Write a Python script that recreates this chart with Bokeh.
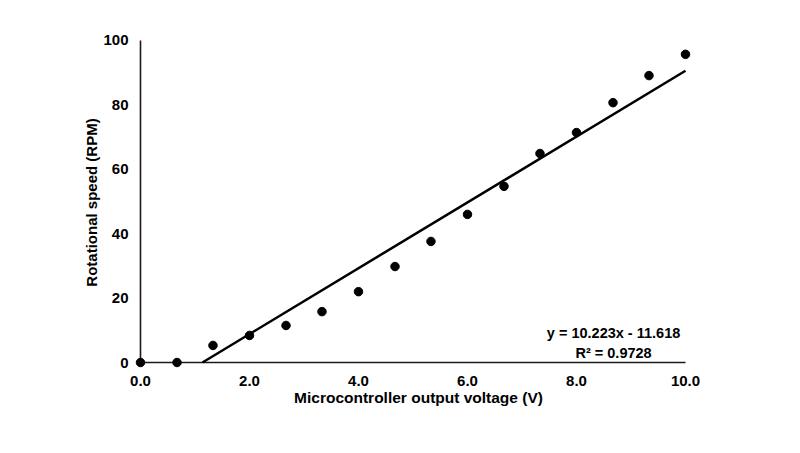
from bokeh.plotting import figure
from bokeh.models import Range1d, FixedTicker, NumeralTickFormatter, Label
from bokeh.embed import file_html
from bokeh.resources import INLINE

# ---- data ----
voltage = [0.0, 0.67, 1.33, 2.0, 2.67, 3.33, 4.0, 4.67, 5.33, 6.0, 6.67, 7.33, 8.0, 8.67, 9.33, 10.0]
rpm = [0.0, 0.0, 5.3, 8.4, 11.5, 15.8, 22.0, 29.8, 37.6, 46.0, 54.7, 64.9, 71.4, 80.7, 89.1, 95.7]
slope = 10.223
intercept = -11.618
r_squared = 0.9728
x_ticks = [0, 2, 4, 6, 8, 10]
y_ticks = [0, 20, 40, 60, 80, 100]
x_title = "Microcontroller output voltage (V)"
y_title = "Rotational speed (RPM)"

FONT = "Liberation Sans"
AXIS_COLOR = "#1a1a1a"

p = figure(width=800, height=453, output_backend="svg", toolbar_location=None,
           x_range=Range1d(-0.110, 10.312), y_range=Range1d(-1.863, 101.24),
           min_border_left=134, min_border_right=98, min_border_top=36, min_border_bottom=85)
p.outline_line_color = None
p.grid.visible = False
p.background_fill_color = "white"
p.border_fill_color = "white"

for ax in (p.xaxis[0], p.yaxis[0]):
    ax.axis_line_color = None
    ax.major_tick_line_color = None
    ax.minor_tick_line_color = None
    ax.major_tick_out = 0
    ax.major_tick_in = 0
    ax.minor_tick_out = 0
    ax.minor_tick_in = 0
    ax.major_label_text_font = FONT
    ax.major_label_text_font_style = "bold"
    ax.major_label_text_font_size = "15px"
    ax.major_label_text_color = "black"
    ax.axis_label_text_font = FONT
    ax.axis_label_text_font_style = "bold"
    ax.axis_label_text_color = "black"

p.xaxis.axis_label_text_font_size = "15.5px"
p.yaxis.axis_label_text_font_size = "15px"
p.xaxis.ticker = FixedTicker(ticks=x_ticks)
p.yaxis.ticker = FixedTicker(ticks=y_ticks)
p.xaxis.formatter = NumeralTickFormatter(format="0.0")
p.yaxis.formatter = NumeralTickFormatter(format="0")
p.xaxis.axis_label = x_title
p.yaxis.axis_label = y_title
p.xaxis.major_label_standoff = 7
p.yaxis.major_label_standoff = 6
p.xaxis.axis_label_standoff = 0
p.yaxis.axis_label_standoff = 0

# axis lines drawn at the data origin
p.segment(x0=[x_ticks[0], x_ticks[0]], y0=[y_ticks[0], y_ticks[0]],
          x1=[x_ticks[-1], x_ticks[0]], y1=[y_ticks[0], y_ticks[-1]],
          line_color=AXIS_COLOR, line_width=1.6)

# trendline (clipped at y = 0 like the reference)
x0 = max(0.0, -intercept / slope)
x1 = max(voltage)
p.line([x0, x1], [slope * x0 + intercept, slope * x1 + intercept], line_color="black", line_width=2.5)

p.scatter(voltage, rpm, marker="circle", size=8.5, fill_color="black", line_color="black")

sign = "-" if intercept < 0 else "+"
eq1 = f"y = {slope}x {sign} {abs(intercept)}"
eq2 = f"R\u00b2 = {r_squared}"
p.add_layout(Label(x=8.68, y=9.3, text=eq1, text_align="center", text_baseline="middle",
                   text_font=FONT, text_font_style="bold", text_font_size="14.5px", text_color="black"))
p.add_layout(Label(x=8.68, y=3.1, text=eq2, text_align="center", text_baseline="middle",
                   text_font=FONT, text_font_style="bold", text_font_size="14.5px", text_color="black"))

open("out.html", "w").write(file_html(p, INLINE))
